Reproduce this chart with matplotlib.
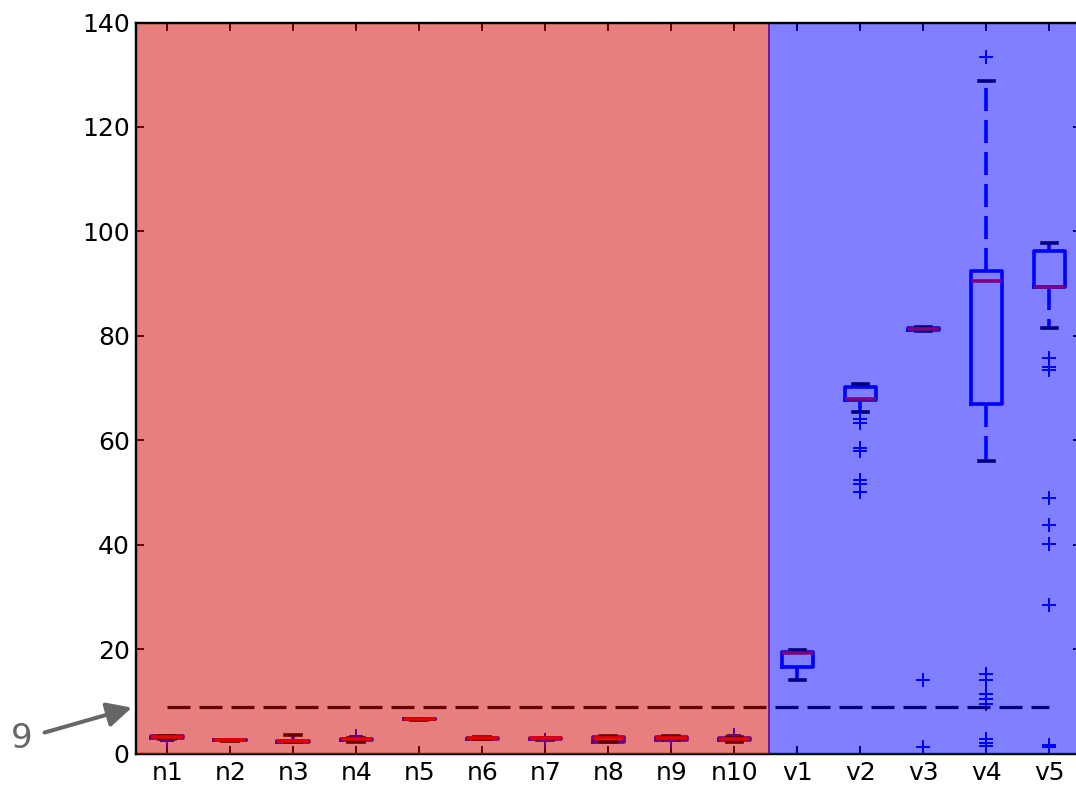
import matplotlib
matplotlib.use('Agg')
import matplotlib.pyplot as plt

# box statistics
labels = ['n1', 'n2', 'n3', 'n4', 'n5', 'n6', 'n7', 'n8', 'n9', 'n10',
          'v1', 'v2', 'v3', 'v4', 'v5']
medians = [3.2, 2.55, 2.3, 2.7, 6.6, 2.9, 2.9, 2.9, 3.0, 2.7,
           19.3, 67.8, 81.25, 90.4, 89.4]
q1 = [3.0, 2.5, 2.25, 2.55, 6.55, 2.8, 2.7, 2.2, 2.6, 2.5,
      16.6, 67.7, 81.1, 66.9, 89.3]
q3 = [3.3, 2.6, 2.4, 2.85, 6.65, 3.0, 2.95, 3.1, 3.1, 2.9,
      19.5, 70.1, 81.4, 92.35, 96.2]
whislo = [2.8, 2.45, 2.2, 2.25, 6.5, 2.75, 2.5, 2.15, 2.5, 2.2,
          14.1, 65.35, 81.0, 55.95, 81.4]
whishi = [3.4, 2.65, 3.5, 3.0, 6.7, 3.2, 3.0, 3.3, 3.3, 3.2,
          19.8, 70.7, 81.6, 128.8, 97.7]
fliers = [[2.4], [], [], [3.4], [], [], [2.5], [], [2.4], [3.6],
          [],
          [64.0, 63.3, 58.6, 58.0, 52.3, 51.6, 50.0],
          [14.1, 1.3],
          [133.3, 15.2, 14.1, 11.3, 10.5, 9.4, 2.7, 2.0, 1.4],
          [75.8, 74.0, 73.4, 49.0, 43.7, 40.2, 28.4, 1.6, 1.2]]
threshold = 9
yticks = [0, 20, 40, 60, 80, 100, 120, 140]

plt.rcParams['lines.scale_dashes'] = False
plt.rcParams['font.family'] = ['DejaVu Sans']

dpi = 144
fig = plt.figure(figsize=(1076 / dpi, 785 / dpi), dpi=dpi)
ax = fig.add_axes([135.7 / 1076, 31.5 / 785, (1081 - 135.7) / 1076, 731 / 785])

positions = list(range(1, len(labels) + 1))
stats = []
for i in range(len(labels)):
    stats.append(dict(label=labels[i], med=medians[i], q1=q1[i], q3=q3[i],
                      whislo=whislo[i], whishi=whishi[i], fliers=fliers[i]))

dash = (0, (11.5, 4.5))
lw = 1.8
ax.bxp(stats, positions=positions, widths=0.5,
       boxprops=dict(color='b', lw=lw),
       whiskerprops=dict(color='b', lw=lw, linestyle=dash),
       capprops=dict(color='k', lw=lw),
       medianprops=dict(color='r', lw=lw),
       flierprops=dict(marker='+', markeredgecolor='b', markersize=7,
                       markeredgewidth=1.0, linestyle='none'))

ax.hlines(threshold, positions[0], positions[-1], colors='k', lw=1.6,
          linestyles=dash)

# shaded groups drawn on top
split = 10.55
ax.axvspan(0.5, split, color=(0.82, 0, 0), alpha=0.5, zorder=3)
ax.axvspan(split, 15.5, color=(0, 0, 1), alpha=0.5, zorder=3)
ax.spines['top'].set_zorder(5)
ax.spines['left'].set_zorder(5)
for side in ['top', 'left', 'bottom', 'right']:
    ax.spines[side].set_linewidth(1.2)

ax.set_xlim(0.5, 15.5)
ax.set_ylim(0, 140)
ax.set_yticks(yticks)
ax.tick_params(direction='in', top=True, right=True, length=4, width=1,
               labelsize=12.5)
ax.tick_params(axis='x', pad=4)
ax.tick_params(axis='y', pad=3)

ax.annotate(str(threshold), xy=(0.5, threshold), xycoords='data',
            xytext=(22, 46), textcoords='figure pixels',
            ha='center', va='center', fontsize=17, color='#666666',
            annotation_clip=False,
            arrowprops=dict(arrowstyle='-|>', color='#666666', lw=2.0,
                            mutation_scale=26, shrinkA=4, shrinkB=2))

fig.savefig('out.png', dpi=dpi)
